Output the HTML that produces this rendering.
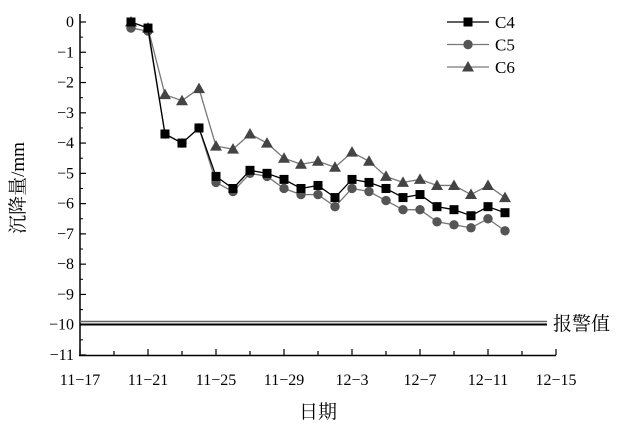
<!DOCTYPE html>
<html><head><meta charset="utf-8"><style>
html,body{margin:0;padding:0;background:#fff;}
</style></head><body>
<svg id="s" width="629" height="427" viewBox="0 0 629 427" xmlns="http://www.w3.org/2000/svg">
<rect width="629" height="427" fill="#fff"/>
</svg>
<script>
const s=document.getElementById('s');const NS='http://www.w3.org/2000/svg';
const FF="'Liberation Serif', 'Noto Serif CJK SC', serif";
function el(t,a,txt){const e=document.createElementNS(NS,t);for(const k in a)e.setAttribute(k,a[k]);if(txt!==undefined){e.textContent=txt;e.setAttribute('font-family',FF);e.style.fontFamily=FF;}s.appendChild(e);return e;}
const X0=80,DX=17,Y0=22,DY=30.27;
const X=d=>X0+d*DX, Y=v=>Y0-v*DY;
el('line',{x1:80,y1:14,x2:80,y2:356,stroke:'#000','stroke-width':1.5});
el('line',{x1:79,y1:355.5,x2:556,y2:355.5,stroke:'#000','stroke-width':1.5});
for(let v=0;v>=-11;v--){el('line',{x1:80,y1:Y(v),x2:86,y2:Y(v),stroke:'#000','stroke-width':1.2});
 el('text',{x:74,y:Y(v)+5,'text-anchor':'end','font-size':16},v==0?'0':'−'+(-v));
 if(v>-11)el('line',{x1:80,y1:Y(v-0.5),x2:83,y2:Y(v-0.5),stroke:'#000','stroke-width':1});}
const lab=['11−17','11−21','11−25','11−29','12−3','12−7','12−11','12−15'];
for(let i=0;i<=14;i++){const x=X(i*2);el('line',{x1:x,y1:355,x2:x,y2:i%2?351:349,stroke:'#000','stroke-width':1.2});
 if(i%2==0)el('text',{x:x,y:385,'text-anchor':'middle','font-size':16},lab[i/2]);}
el('text',{x:318,y:418,'text-anchor':'middle','font-size':19},'日期');
el('text',{x:0,y:0,'text-anchor':'middle','font-size':19,transform:'translate(24,188) rotate(-90)'},'沉降量/mm');
el('line',{x1:80,y1:321.5,x2:547,y2:321.5,stroke:'#666','stroke-width':1.5});
el('line',{x1:80,y1:324.5,x2:547,y2:324.5,stroke:'#000','stroke-width':2});
el('text',{x:553,y:330,'font-size':19},'报警值');
const C4=[0,-0.2,-3.7,-4.0,-3.5,-5.1,-5.5,-4.9,-5.0,-5.2,-5.5,-5.4,-5.8,-5.2,-5.3,-5.5,-5.8,-5.7,-6.1,-6.2,-6.4,-6.1,-6.3];
const C5=[-0.2,-0.3,-3.7,-4.0,-3.5,-5.3,-5.6,-5.0,-5.1,-5.5,-5.7,-5.7,-6.1,-5.5,-5.6,-5.9,-6.2,-6.2,-6.6,-6.7,-6.8,-6.5,-6.9];
const C6=[0,-0.2,-2.4,-2.6,-2.2,-4.1,-4.2,-3.7,-4.0,-4.5,-4.7,-4.6,-4.8,-4.3,-4.6,-5.1,-5.3,-5.2,-5.4,-5.4,-5.7,-5.4,-5.8];
function mark(type,x,y,c){
 if(type==0)el('rect',{x:x-4.5,y:y-4.5,width:9,height:9,fill:c});
 else if(type==1)el('circle',{cx:x,cy:y,r:4.7,fill:c});
 else el('polygon',{points:`${x},${y-6} ${x-6},${y+4.5} ${x+6},${y+4.5}`,fill:c});}
function series(d,type,lc,mc){const pts=d.map((v,i)=>X(3+i)+','+Y(v)).join(' ');
 el('polyline',{points:pts,fill:'none',stroke:lc,'stroke-width':1.3});
 d.forEach((v,i)=>mark(type,X(3+i),Y(v),mc));}
series(C6,2,'#777','#444');
series(C5,1,'#777','#555');
series(C4,0,'#000','#000');
[[0,'#000','#000','C4'],[1,'#777','#555','C5'],[2,'#777','#444','C6']].forEach((r,i)=>{const y=22+i*22.5;
 el('line',{x1:447,y1:y,x2:489,y2:y,stroke:r[1],'stroke-width':1.3});mark(r[0],468,y,r[2]);
 el('text',{x:495,y:y+6,'font-size':17},r[3]);});
</script>
</body></html>
